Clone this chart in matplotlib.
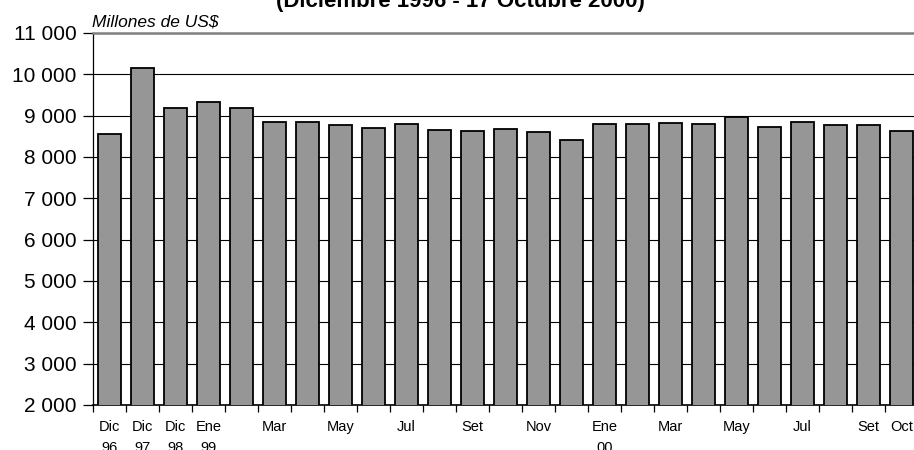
#==================================================================================================
#                  Reservas internacionales (Diciembre 1996 - 17 Octubre 2000)
#==================================================================================================
import matplotlib.pyplot as plt
from matplotlib.ticker import FuncFormatter

# etiquetas del eje x (una por barra, vacias donde no hay texto)
meses = ["Dic\n96", "Dic\n97", "Dic\n98", "Ene\n99", "", "Mar", "", "May", "", "Jul",
         "", "Set", "", "Nov", "", "Ene\n00", "", "Mar", "", "May", "", "Jul", "", "Set", "Oct"]

# valores en millones de US$
reservas = [8555, 10160, 9190, 9335, 9190, 8840, 8850, 8770, 8710, 8800,
            8650, 8635, 8685, 8595, 8415, 8800, 8800, 8820, 8800, 8960,
            8730, 8840, 8765, 8765, 8635]

titulo = "(Diciembre 1996 - 17 Octubre 2000)"
unidad = "Millones de US$"

plt.rcParams['font.family'] = ['Liberation Sans', 'DejaVu Sans']

# ================================
# Configurar figura
# ================================
fig = plt.figure(figsize=(9.14, 4.5), dpi=100)
ax = fig.add_axes([93/914, 45/450, 825/914, 372/450])

x = list(range(len(reservas)))
ax.bar(x, reservas, width=0.68, color='#969696', edgecolor='black', linewidth=1.3, zorder=3)

ax.set_xlim(-0.5, len(reservas) - 0.5)
ax.set_ylim(2000, 11000)
ax.set_yticks(range(2000, 11001, 1000))
ax.yaxis.set_major_formatter(FuncFormatter(lambda v, p: f"{int(v):,}".replace(",", " ")))

# lineas horizontales
ax.grid(axis='y', color='black', linewidth=0.8, zorder=0)
ax.set_axisbelow(True)

# etiquetas centradas en las barras, marcas entre barras
ax.set_xticks(x)
ax.set_xticklabels(meses, fontsize=10.5, linespacing=1.65)
ax.set_xticks([i - 0.5 for i in x], minor=True)
ax.tick_params(axis='x', which='major', length=0, pad=11)
ax.tick_params(axis='x', which='minor', length=5, width=0.9, direction='out')
ax.tick_params(axis='y', length=7, width=0.9, labelsize=15, pad=5)

ax.spines['top'].set_color('#808080')
ax.spines['top'].set_linewidth(1.8)
ax.spines['right'].set_visible(False)
ax.spines['left'].set_linewidth(0.9)
ax.spines['bottom'].set_linewidth(1.2)

# ================================
# Textos
# ================================
fig.text(460/914, 1 - 7.5/450, titulo, ha='center', va='baseline',
         fontsize=16, fontweight='bold')
fig.text(92/914, 1 - 26/450, unidad, ha='left', va='baseline',
         fontsize=12.5, style='italic')

fig.savefig("out.png", dpi=100)
